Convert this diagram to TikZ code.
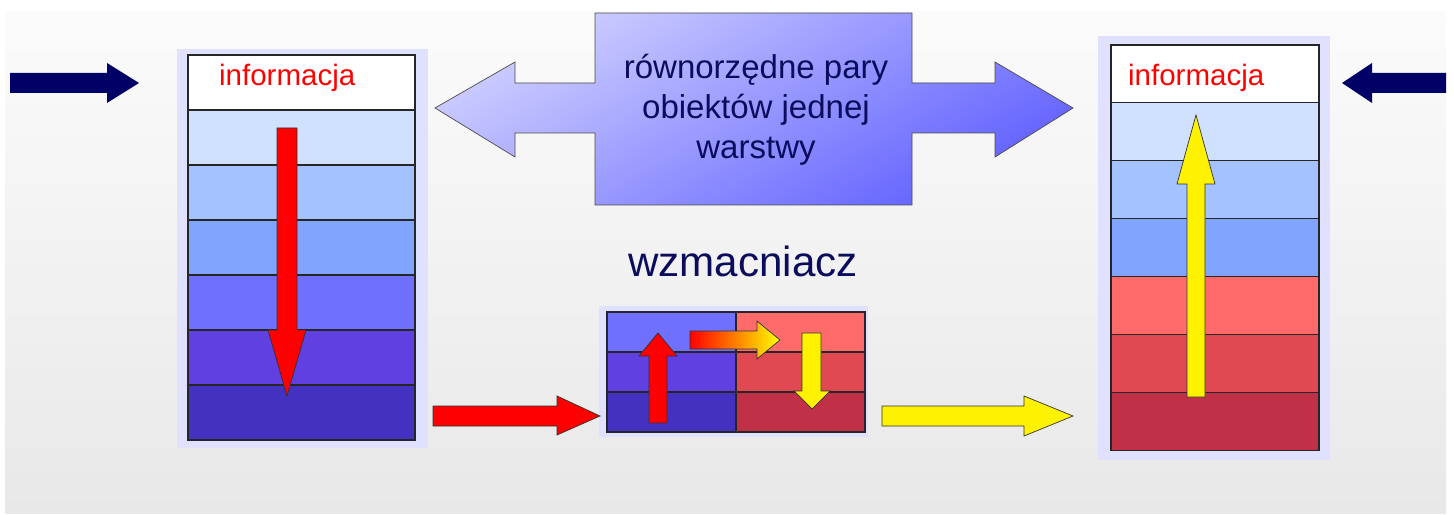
\documentclass[tikz,border=0pt]{standalone}
\usepackage{fontspec}
\setmainfont{Liberation Sans}
\definecolor{navy}{HTML}{000066}
\definecolor{txtnavy}{HTML}{0C0C5C}
\definecolor{frame}{HTML}{E0E0FF}
\definecolor{la}{HTML}{D0E0FF}
\definecolor{lb}{HTML}{A3C2FF}
\definecolor{lc}{HTML}{80A4FF}
\definecolor{ld}{HTML}{7070FF}
\definecolor{le}{HTML}{6040E0}
\definecolor{lf}{HTML}{4332BF}
\definecolor{ra}{HTML}{FF6B6B}
\definecolor{rb}{HTML}{E04852}
\definecolor{rc}{HTML}{C03047}
\definecolor{bigA}{HTML}{CECEFF}
\definecolor{bigB}{HTML}{6262FF}
\definecolor{bgtop}{HTML}{FBFBFB}
\definecolor{bgbot}{HTML}{E8E8E8}
\begin{document}
\begin{tikzpicture}[x=0.5mm,y=-0.5mm,
  layer/.style={draw=black!85,line width=1.5pt},
  blockarrow/.style={draw=black!80,line width=1pt,line join=miter},
  info/.style={text=red,font=\fontsize{42}{50}\selectfont,inner sep=0pt},
  lbl/.style={text=txtnavy,inner sep=0pt}]
\useasboundingbox (0,0) rectangle (1454,515);
% background panel
\shade[top color=bgtop,bottom color=bgbot] (5,12) rectangle (1446,513);
% left arrow in
\fill[navy] (10,73) -- (107,73) -- (107,63) -- (139,83) -- (107,103) -- (107,93) -- (10,93) -- cycle;
% right arrow in
\fill[navy] (1446,73) -- (1372,73) -- (1372,63) -- (1342,83) -- (1372,103) -- (1372,93) -- (1446,93) -- cycle;
% left stack
\fill[frame] (177,49) rectangle (428,448);
\foreach \c [count=\i from 0] in {white,la,lb,lc,ld,le,lf}
  \draw[layer,fill=\c] (188,{55+\i*55}) rectangle (415,{110+\i*55});
\node[info,anchor=base west] (infoL) at (219,86) {informacja};
\draw[blockarrow,fill=red] (277,128) -- (297,128) -- (297,330) -- (306,330) -- (287,396) -- (268,330) -- (277,330) -- cycle;
% right stack
\fill[frame] (1098,36) rectangle (1330,460);
\foreach \c [count=\i from 0] in {white,la,lb,lc,ra,rb,rc}
  \draw[layer,fill=\c] (1111,{45+\i*57.9}) rectangle (1319,{102.9+\i*57.9});
\node[info,anchor=base west] (infoR) at (1128,86) {informacja};
\draw[blockarrow,fill=yellow] (1187,397) -- (1205,397) -- (1205,184) -- (1215,184) -- (1196,115) -- (1177,184) -- (1187,184) -- cycle;
% big double arrow
\draw[draw=black!70,line width=1pt,left color=bigA,right color=bigB,shading angle=30]
  (435,108) -- (515,62) -- (515,83) -- (595,83) -- (595,13) -- (912,13) -- (912,83) -- (995,83) -- (995,62) -- (1073,108) -- (995,157) -- (995,133) -- (912,133) -- (912,205) -- (595,205) -- (595,133) -- (515,133) -- (515,157) -- cycle;
\node[lbl,align=center,font=\fontsize{47}{57}\selectfont] (peer) at (756,110) {równorzędne pary\\obiektów jednej\\warstwy};
% amplifier
\node[lbl,anchor=base,font=\fontsize{60}{70}\selectfont] (amp) at (743,277) {wzmacniacz};
\fill[frame] (599,306) rectangle (868,437);
\foreach \c [count=\i from 0] in {ld,le,lf}
  \draw[layer,fill=\c] (607,{312+\i*40}) rectangle (736,{352+\i*40});
\foreach \c [count=\i from 0] in {ra,rb,rc}
  \draw[layer,fill=\c] (736,{312+\i*40}) rectangle (865,{352+\i*40});
\draw[blockarrow,fill=red] (649,423) -- (667,423) -- (667,356) -- (677,356) -- (658,333) -- (639,356) -- (649,356) -- cycle;
\draw[blockarrow,left color=red,right color=yellow] (690,331) -- (757,331) -- (757,321) -- (780,340) -- (757,359) -- (757,349) -- (690,349) -- cycle;
\draw[blockarrow,fill=yellow] (802,333) -- (821,333) -- (821,391) -- (830,391) -- (812,409) -- (794,391) -- (802,391) -- cycle;
% bottom arrows
\draw[blockarrow,fill=red] (433,406) -- (557,406) -- (557,396) -- (600,416) -- (557,435) -- (557,426) -- (433,426) -- cycle;
\draw[blockarrow,fill=yellow] (882,406) -- (1024,406) -- (1024,396) -- (1073,416) -- (1024,436) -- (1024,426) -- (882,426) -- cycle;
\end{tikzpicture}
\end{document}
